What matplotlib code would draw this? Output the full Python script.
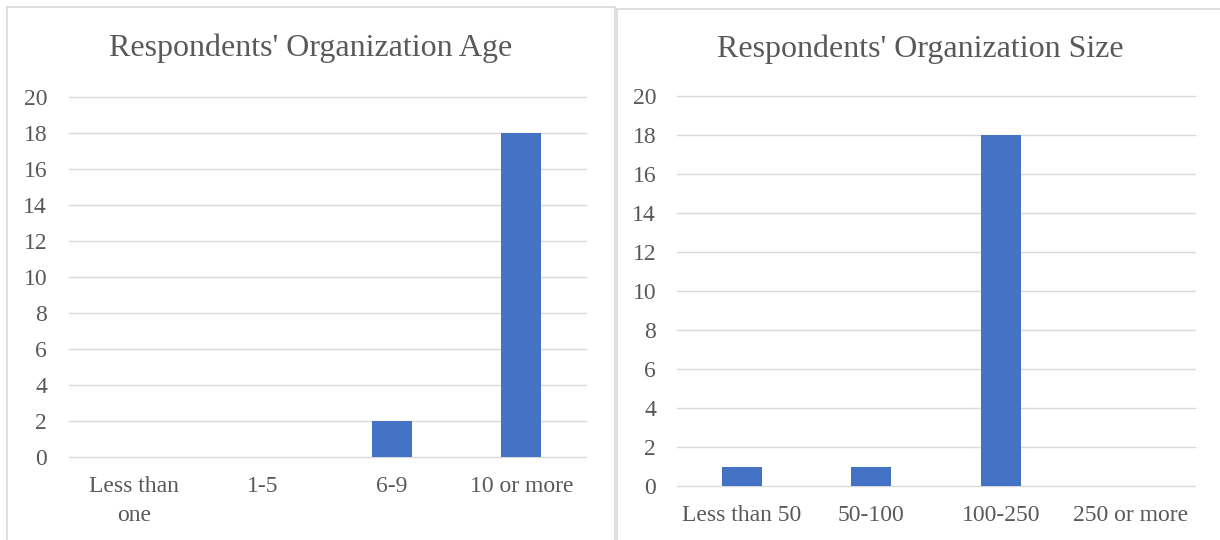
import matplotlib
matplotlib.use("Agg")
import matplotlib.pyplot as plt
from matplotlib.lines import Line2D

# Survey counts
age_categories = ["Less than\none", "1-5", "6-9", "10 or more"]
age_counts = [0, 0, 2, 18]

size_categories = ["Less than 50", "50-100", "100-250", "250 or more"]
size_counts = [1, 1, 18, 0]

y_ticks = list(range(0, 21, 2))

BAR_COLOR = "#4472C4"
TEXT_COLOR = "#595959"
GRID_COLOR = "#D9D9D9"
BORDER_COLOR = "#D9D9D9"

plt.rcParams["font.family"] = ["Liberation Serif", "DejaVu Serif"]

W, H = 1220, 540
fig = plt.figure(figsize=(W / 100, H / 100), dpi=100)
fig.patch.set_facecolor("white")


def px_axes(x0, x1, y_top, y_bottom):
    return fig.add_axes([x0 / W, (H - y_bottom) / H, (x1 - x0) / W, (y_bottom - y_top) / H])


def style_axes(ax, categories, counts, title, title_xy, ypad, xpad):
    positions = list(range(len(categories)))
    ax.bar(positions, counts, width=0.31, color=BAR_COLOR, zorder=3)
    ax.set_xlim(-0.5, len(categories) - 0.5)
    ax.set_ylim(0, 20)
    ax.set_yticks(y_ticks)
    ax.set_xticks(positions)
    ax.set_xticklabels(categories, linespacing=1.45)
    ax.tick_params(axis="both", length=0, labelsize=17, colors=TEXT_COLOR)
    ax.tick_params(axis="x", pad=xpad)
    ax.tick_params(axis="y", pad=ypad)
    for s in ax.spines.values():
        s.set_visible(False)
    ax.set_axisbelow(True)
    ax.yaxis.grid(True, color=GRID_COLOR, linewidth=1.0)
    ax.xaxis.grid(False)
    for gl in ax.get_ygridlines():
        gl.set_clip_on(False)
    ax.patch.set_alpha(0)
    fig.text(title_xy[0] / W, 1 - title_xy[1] / H, title, ha="center", va="center",
             fontsize=23, color=TEXT_COLOR)


ax1 = px_axes(69, 586, 97, 457)
style_axes(ax1, age_categories, age_counts, "Respondents' Organization Age", (311, 48), 15.8, 14)

ax2 = px_axes(677, 1195, 96, 486)
style_axes(ax2, size_categories, size_counts, "Respondents' Organization Size", (920, 49), 15, 14)

# Panel frames
def frame_line(xs, ys, lw=1.2):
    fig.add_artist(Line2D([x / W for x in xs], [1 - y / H for y in ys],
                          color=BORDER_COLOR, linewidth=lw, transform=fig.transFigure))

frame_line([7, 7], [7, 545])
frame_line([7, 614.5], [7, 7])
frame_line([614.5, 614.5], [7, 545])
frame_line([616.5, 616.5], [9, 545])
frame_line([616.5, 1225], [9, 9])

fig.savefig("out.png", dpi=100, facecolor="white")
